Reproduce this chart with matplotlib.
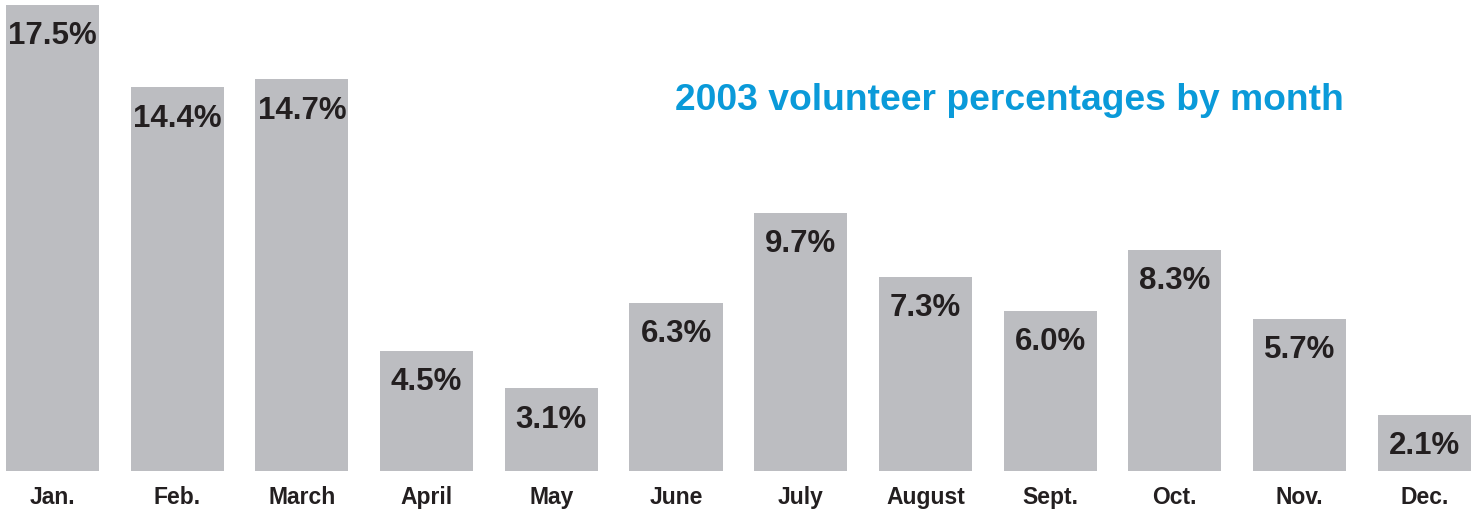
import matplotlib
matplotlib.use("Agg")
import matplotlib.pyplot as plt

months = ["Jan.", "Feb.", "March", "April", "May", "June",
          "July", "August", "Sept.", "Oct.", "Nov.", "Dec."]
percentages = [17.5, 14.4, 14.7, 4.5, 3.1, 6.3, 9.7, 7.3, 6.0, 8.3, 5.7, 2.1]
title = "2003 volunteer percentages by month"

bar_color = "#bcbdc1"
text_color = "#231f20"
title_color = "#0a9ad9"

plt.rcParams["font.family"] = ["Liberation Sans", "DejaVu Sans"]

fig = plt.figure(figsize=(14.74, 5.10), dpi=100, facecolor="white")
# axes span the full width; baseline sits ~38 px above the bottom edge
ax = fig.add_axes([0, 38 / 510, 1, 472 / 510])

x = list(range(len(months)))
bars = ax.bar(x, percentages, width=0.746, color=bar_color, linewidth=0)

# value labels inside the top of each bar
for rect, val in zip(bars, percentages):
    ax.annotate(f"{val:.1f}%",
                xy=(rect.get_x() + rect.get_width() / 2, rect.get_height()),
                xytext=(0, -11), textcoords="offset points",
                ha="center", va="top", fontsize=22.5, fontweight="bold",
                color=text_color)

ax.set_xlim(-52.5 / 124.7, (1474 - 52.5) / 124.7)
ax.set_ylim(0, 17.72)

ax.set_xticks(x)
ax.set_xticklabels(months, fontsize=16.5, fontweight="bold", color=text_color)
ax.tick_params(axis="x", length=0, pad=10)
ax.set_yticks([])
for side in ["top", "right", "left", "bottom"]:
    ax.spines[side].set_visible(False)

fig.text(1009 / 1474, 1 - 101 / 510, title, ha="center", va="center",
         fontsize=26.8, fontweight="bold", color=title_color)

fig.savefig("out.png", dpi=100, facecolor="white")
